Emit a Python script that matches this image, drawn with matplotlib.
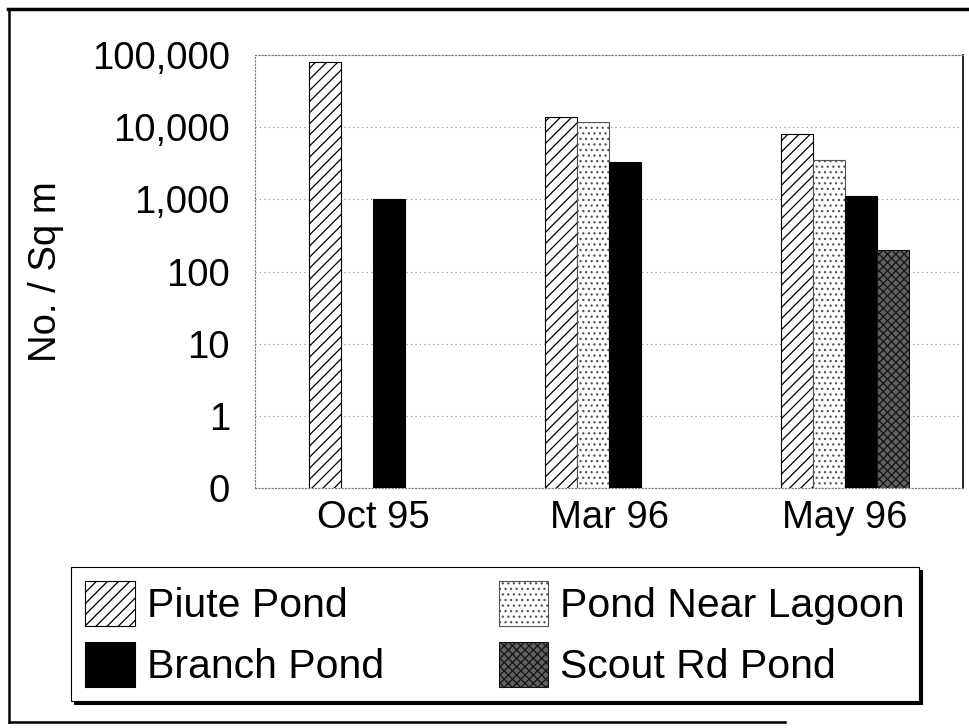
import numpy as np
import matplotlib
matplotlib.use("Agg")
from matplotlib import pyplot as plt
from matplotlib.lines import Line2D

plt.rcParams['font.family'] = ['Liberation Sans', 'DejaVu Sans']
plt.rcParams['hatch.linewidth'] = 0.9

# data (nan = no bar)
dates = ['Oct 95', 'Mar 96', 'May 96']
piute = [80000, 13800, 8000]
near_lagoon = [np.nan, 11700, 3500]
branch = [1000, 3250, 1100]
scout = [np.nan, np.nan, 200]

ytick_vals = [0.1, 1, 10, 100, 1000, 10000, 100000]
ytick_text = ['0', '1', '10', '100', '1,000', '10,000', '100,000']

W, H = 969, 728
fig = plt.figure(figsize=(W / 100, H / 100), dpi=100)
ax = fig.add_axes([255 / W, 1 - 488 / H, 708 / W, 433 / H])

x = np.arange(len(dates))
w = 0.1356
fs = 27.5
series = [
    ('Piute Pond', piute, dict(facecolor='white', edgecolor='black', hatch='///')),
    ('Pond Near Lagoon', near_lagoon, dict(facecolor='white', edgecolor='#555555', hatch='...')),
    ('Branch Pond', branch, dict(facecolor='black', edgecolor='black')),
    ('Scout Rd Pond', scout, dict(facecolor='#606060', edgecolor='#151515', hatch='xxxx')),
]
handles = {}
for i, (name, vals, style) in enumerate(series):
    vals = np.array(vals, dtype=float)
    keep = ~np.isnan(vals)
    off = (i - 1.5) * w
    bars = ax.bar(x[keep] + off, vals[keep], width=w, bottom=0.1,
                  linewidth=0.8, zorder=3, **style)
    handles[name] = bars

ax.set_yscale('log')
ax.set_ylim(0.1, 100000)
ax.set_xlim(-0.5, 2.5)
ax.set_yticks(ytick_vals)
ax.set_yticklabels(ytick_text)
ax.minorticks_off()
ax.set_xticks(x)
ax.set_xticklabels(dates)
ax.tick_params(axis='both', length=0, labelsize=fs)
ax.tick_params(axis='y', pad=18)
ax.tick_params(axis='x', pad=9)

ax.yaxis.grid(True, linestyle=(0, (1, 3)), color='#888888', linewidth=0.8, zorder=0)
for side in ['left', 'bottom', 'top']:
    ax.spines[side].set_linestyle((0, (1, 2)))
    ax.spines[side].set_color('#777777')
    ax.spines[side].set_linewidth(0.8)
ax.spines['right'].set_color('black')
ax.spines['right'].set_linewidth(1.2)

ax.set_ylabel('No. / Sq m', fontsize=fs)
ax.yaxis.set_label_coords(-0.27, 0.5)

order = ['Piute Pond', 'Branch Pond', 'Pond Near Lagoon', 'Scout Rd Pond']
leg = fig.legend([handles[n] for n in order], order, ncol=2,
                 loc='upper left', bbox_to_anchor=(71 / W, 1 - 567 / H),
                 fontsize=29.5, frameon=True, fancybox=False,
                 shadow={'color': 'black', 'alpha': 1},
                 handlelength=1.2, handleheight=1.3, handletextpad=0.3,
                 labelspacing=0.4, columnspacing=2.8, borderpad=0.35,
                 borderaxespad=0)
leg.get_frame().set_edgecolor('black')
leg.get_frame().set_linewidth(0.8)

# outer frame of the scanned page
fig.add_artist(Line2D([8 / W, 1], [1 - 9 / H, 1 - 9 / H], color='black', linewidth=2.5))
fig.add_artist(Line2D([9 / W, 9 / W], [1 - 9 / H, 1 - 722 / H], color='black', linewidth=1.8))
fig.add_artist(Line2D([9 / W, 785 / W], [1 - 722 / H, 1 - 722 / H], color='black', linewidth=1.8))

plt.savefig('out.png', dpi=100)
